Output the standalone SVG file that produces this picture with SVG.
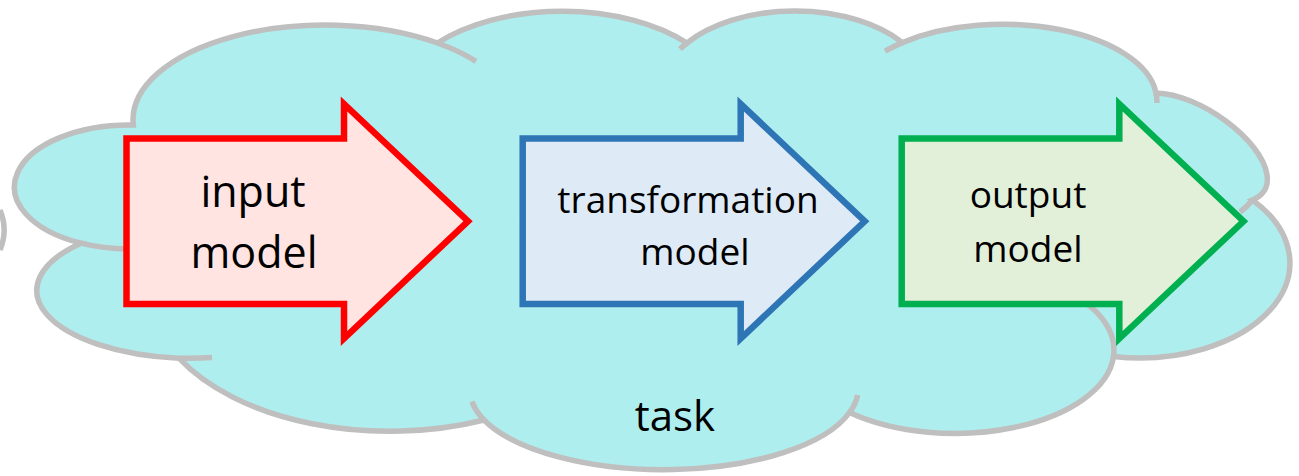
<svg xmlns="http://www.w3.org/2000/svg" width="1299" height="476" viewBox="0 0 1299 476">
<style>
.cloud{fill:#AFEEEE;stroke:#BFBFBF;stroke-width:5.5;stroke-linejoin:miter}
.inner{fill:none;stroke:#BFBFBF;stroke-width:5.5}
.arrow{stroke-width:6.5;stroke-linejoin:miter;stroke-miterlimit:10}
.lbl{font-family:"Open Sans","Noto Sans","DejaVu Sans",sans-serif;fill:#000;text-anchor:middle}
</style>
<rect width="1299" height="476" fill="#FFFFFF"/>
<g id="task-cloud">
<path class="cloud" d="M 133.3 125 A 192 95 0 0 1 437.5 43 A 165 92 0 0 1 687 43 A 135 80 0 0 1 902.5 42.6 A 154 76 0 0 1 1156 93 C 1200 94 1262 140 1267 175 C 1269 188 1262 196 1252.3 200 A 150 95 0 0 1 1113.5 356.4 A 159 83 0 0 1 849.5 412.5 A 194 80 0 0 1 484 420 A 240 140 0 0 1 179 358.2 A 157 68 0 0 1 81 243.2 A 115 62 0 0 1 133.3 125 Z"/>
<path class="inner" d="M 437.5 43 A 192 95 0 0 1 476 61.3 M 687 43 A 135 80 0 0 0 680 49.1 M 902.5 42.6 A 154 76 0 0 0 885 51.2 M 1156 93 A 154 76 0 0 1 1156.9 103 M 1252.3 200 Q 1247 207 1240 212 M 1113.5 356.4 A 159 83 0 0 0 1082 300 M 849.5 412.5 A 194 80 0 0 0 857.6 395 M 484 420 A 194 80 0 0 1 472 401.5 M 179 358.2 A 157 68 0 0 0 212 357.6 M 81 243.2 A 115 62 0 0 0 128 249"/>
<text class="lbl" x="675" y="431" font-size="42">task</text>
</g>
<g id="edge-fragment">
<path class="inner" d="M 0 210 A 52 52 0 0 1 0 250"/>
</g>
<g id="input-model">
<path class="arrow" fill="#FFE4E1" stroke="#FF0000" d="M 126.5 138.5 H 344 V 104 L 468 221.25 L 344 338.5 V 304 H 126.5 Z"/>
<text class="lbl" x="253" y="207" font-size="43">input</text>
<text class="lbl" x="254" y="268" font-size="43">model</text>
</g>
<g id="transformation-model">
<path class="arrow" fill="#DEEBF7" stroke="#2E75B6" d="M 522.7 138.5 H 740.7 V 104 L 864.7 221.25 L 740.7 338.5 V 304 H 522.7 Z"/>
<text class="lbl" x="688" y="213" font-size="37">transformation</text>
<text class="lbl" x="695" y="265" font-size="37">model</text>
</g>
<g id="output-model">
<path class="arrow" fill="#E2F0D9" stroke="#00B050" d="M 901.7 138.5 H 1119.3 V 104 L 1243.5 221.25 L 1119.3 338.5 V 304 H 901.7 Z"/>
<text class="lbl" x="1028" y="208" font-size="37">output</text>
<text class="lbl" x="1028" y="262" font-size="37">model</text>
</g>
<g id="connectors"/>
</svg>
